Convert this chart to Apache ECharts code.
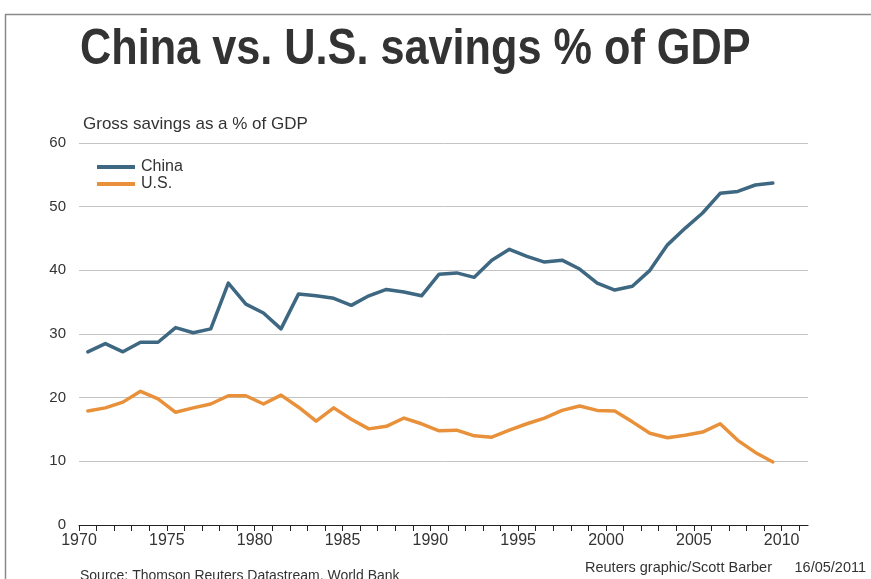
<!DOCTYPE html>
<html>
<head>
<meta charset="utf-8">
<title>China vs. U.S. savings % of GDP</title>
<script src="https://cdn.jsdelivr.net/npm/echarts@6/dist/echarts.min.js"></script>
<style>
  html, body { margin: 0; padding: 0; background: #ffffff; }
  #chart { width: 871px; height: 579px; }
</style>
</head>
<body>
<div id="chart"></div>
<script>
// Gross savings as a % of GDP, annual, 1970-2009
const years = [
  1970, 1971, 1972, 1973, 1974, 1975, 1976, 1977, 1978, 1979,
  1980, 1981, 1982, 1983, 1984, 1985, 1986, 1987, 1988, 1989,
  1990, 1991, 1992, 1993, 1994, 1995, 1996, 1997, 1998, 1999,
  2000, 2001, 2002, 2003, 2004, 2005, 2006, 2007, 2008, 2009
];
const china = [
  27.2, 28.5, 27.2, 28.7, 28.7, 31.0, 30.2, 30.8, 38.0, 34.7,
  33.3, 30.8, 36.3, 36.0, 35.6, 34.5, 36.0, 37.0, 36.6, 36.0,
  39.4, 39.6, 38.9, 41.6, 43.3, 42.2, 41.3, 41.6, 40.2, 38.0,
  36.9, 37.5, 40.0, 44.0, 46.6, 49.0, 52.1, 52.4, 53.4, 53.7
];
const us = [
  17.9, 18.4, 19.3, 21.0, 19.8, 17.7, 18.4, 19.0, 20.3, 20.3,
  19.0, 20.4, 18.5, 16.3, 18.4, 16.6, 15.1, 15.5, 16.8, 15.9,
  14.8, 14.9, 14.0, 13.8, 14.9, 15.9, 16.8, 18.0, 18.7, 18.0,
  17.9, 16.2, 14.4, 13.7, 14.1, 14.6, 15.9, 13.3, 11.4, 9.9
];
const yTicks = [0, 10, 20, 30, 40, 50, 60];

const titleText = 'China vs. U.S. savings % of GDP';
const subtitleText = 'Gross savings as a % of GDP';
const sourceText = 'Source: Thomson Reuters Datastream, World Bank';
const creditText = 'Reuters graphic/Scott Barber';
const dateText = '16/05/2011';

// annual figures sit at the middle of each year on the time axis
const toPoints = vals => years.map((yr, i) => [yr + 0.5, vals[i]]);

const FONT = '"Liberation Sans", Arial, sans-serif';
const TEXT = '#333333';

const chart = echarts.init(document.getElementById('chart'), null, { renderer: 'canvas' });

chart.setOption({
  backgroundColor: '#ffffff',
  animation: false,
  textStyle: { fontFamily: FONT },
  grid: { left: 79, right: 63, top: 143, bottom: 54, containLabel: false },
  legend: {
    orient: 'vertical',
    left: 92,
    top: 154,
    icon: 'rect',
    itemWidth: 38,
    itemHeight: 4,
    itemGap: 1,
    textStyle: { color: TEXT, fontSize: 16, fontFamily: FONT, padding: [0, 0, 0, 1] },
    data: ['China', 'U.S.']
  },
  xAxis: {
    type: 'value',
    min: 1970,
    max: 2011.5,
    interval: 1,
    axisLine: { show: true, lineStyle: { color: '#222222', width: 1.2 } },
    axisTick: { show: true, length: 6, lineStyle: { color: '#222222', width: 1 } },
    axisLabel: {
      color: TEXT,
      fontSize: 16,
      margin: 8,
      fontFamily: FONT,
      showMaxLabel: false,
      formatter: v => (v % 5 === 0 ? String(v) : '')
    },
    splitLine: { show: false }
  },
  yAxis: {
    type: 'value',
    min: yTicks[0],
    max: yTicks[yTicks.length - 1],
    interval: 10,
    axisLine: { show: false },
    axisTick: { show: false },
    axisLabel: { color: TEXT, fontSize: 15, margin: 13, fontFamily: FONT },
    splitLine: { show: true, lineStyle: { color: '#c4c4c4', width: 1 } }
  },
  series: [
    {
      name: 'China',
      type: 'line',
      data: toPoints(china),
      showSymbol: false,
      symbol: 'none',
      lineStyle: { color: '#3e6782', width: 3.5, join: 'round', cap: 'round' },
      itemStyle: { color: '#3e6782' },
      z: 3
    },
    {
      name: 'U.S.',
      type: 'line',
      data: toPoints(us),
      showSymbol: false,
      symbol: 'none',
      lineStyle: { color: '#e8913a', width: 3.5, join: 'round', cap: 'round' },
      itemStyle: { color: '#e8913a' },
      z: 3
    }
  ],
  graphic: [
    // frame along the top and left edges
    { type: 'line', shape: { x1: 5, y1: 14.5, x2: 871, y2: 14.5 }, style: { stroke: '#8a8a8a', lineWidth: 1.5 } },
    { type: 'line', shape: { x1: 5.5, y1: 14, x2: 5.5, y2: 579 }, style: { stroke: '#8a8a8a', lineWidth: 1.5 } },
    {
      type: 'text', x: 80, y: 50, scaleX: 0.865,
      style: { text: titleText, fill: TEXT, font: 'bold 50px ' + FONT, textVerticalAlign: 'middle' }
    },
    {
      type: 'text', x: 83, y: 124,
      style: { text: subtitleText, fill: TEXT, font: '17px ' + FONT, textVerticalAlign: 'middle' }
    },
    {
      type: 'text', x: 80, y: 576,
      style: { text: sourceText, fill: TEXT, font: '14px ' + FONT, textVerticalAlign: 'middle' }
    },
    {
      type: 'text', x: 585, y: 568,
      style: { text: creditText, fill: TEXT, font: '14.5px ' + FONT, textVerticalAlign: 'middle' }
    },
    {
      type: 'text', x: 866, y: 568,
      style: { text: dateText, fill: TEXT, font: '14.5px ' + FONT, textAlign: 'right', textVerticalAlign: 'middle' }
    }
  ]
});
</script>
</body>
</html>
